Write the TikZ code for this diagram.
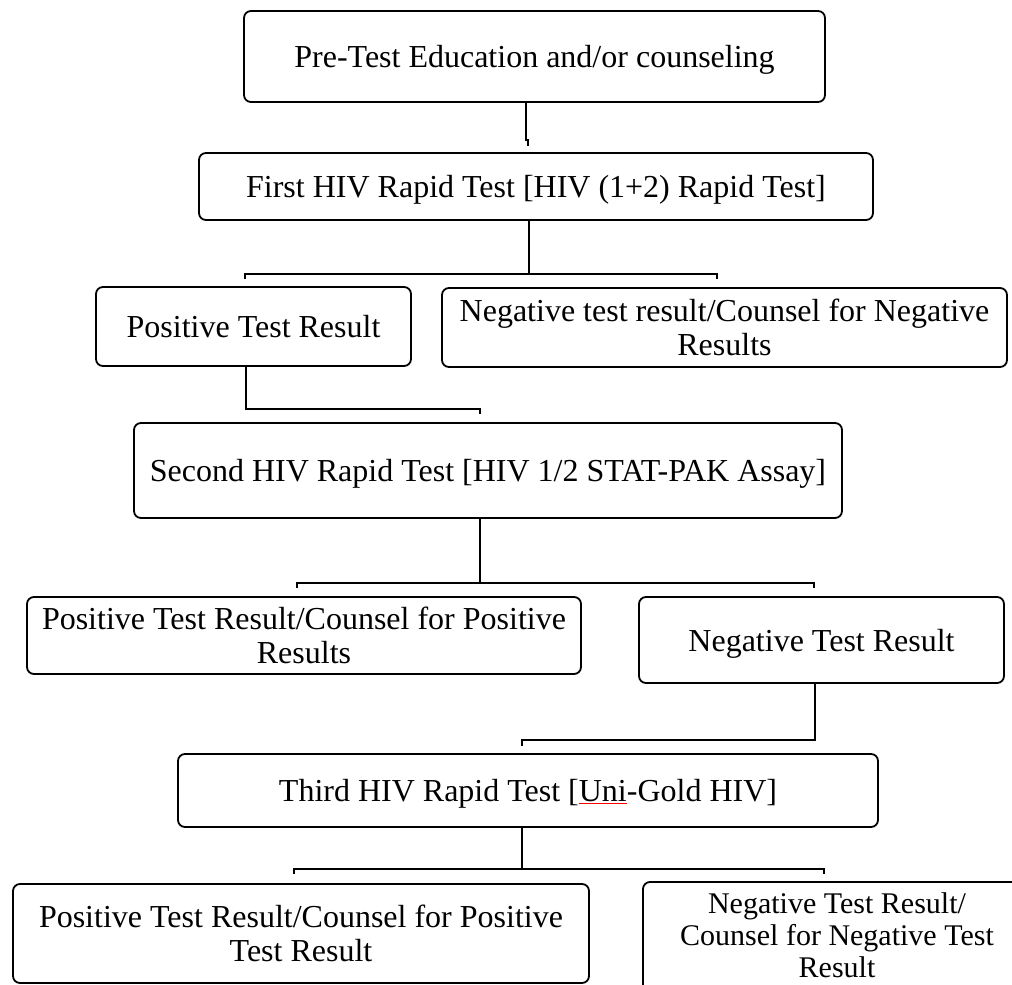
\documentclass[tikz,border=0pt]{standalone}
\usepackage{fontspec}
\setmainfont{Liberation Serif}
\begin{document}
\begin{tikzpicture}[x=1pt,y=-1pt,
  box/.style={draw=black, line width=1.8pt, rounded corners=7pt, inner sep=0pt,
    align=center, text depth=0pt, font=\fontsize{32}{34}\selectfont},
  conn/.style={draw=black, line width=1.8pt}]
\useasboundingbox (0,0) rectangle (1012,985);
\begin{scope}
\clip (0,0) rectangle (1012,985);
% boxes
\node[box, minimum width=581pt, minimum height=91pt] (pre) at (534.5,56.5) {Pre-Test Education and/or counseling};
\node[box, minimum width=674pt, minimum height=67pt] (first) at (536,186.5) {First HIV Rapid Test [HIV (1+2) Rapid Test]};
\node[box, minimum width=315pt, minimum height=79pt] (pos1) at (253.5,326.5) {Positive Test Result};
\node[box, minimum width=565pt, minimum height=79pt] (neg1) at (724.5,327.5) {Negative test result/Counsel for Negative\\Results};
\node[box, minimum width=708pt, minimum height=95pt] (second) at (488,470.5) {Second HIV Rapid Test [HIV 1/2 STAT-PAK Assay]};
\node[box, minimum width=554pt, minimum height=77pt] (pos2) at (304,635.5) {Positive Test Result/Counsel for Positive\\Results};
\node[box, minimum width=365pt, minimum height=86pt] (neg2) at (821.5,640) {Negative Test Result};
\node[box, minimum width=700pt, minimum height=73pt] (third) at (528,790.5) {Third HIV Rapid Test [\textcolor{red}{\underline{\textcolor{black}{Uni}}}-Gold HIV]};
\node[box, minimum width=576pt, minimum height=99pt] (pos3) at (301,933.5) {Positive Test Result/Counsel for Positive\\Test Result};
\node[box, minimum width=388pt, minimum height=113pt] (neg3) at (837,938.5) {};
\node[align=center, inner sep=0pt, text depth=0pt, font=\fontsize{30}{32}\selectfont] (neg3t) at (837,935) {Negative Test Result/\\Counsel for Negative Test\\Result};
\end{scope}
% connectors
\coordinate (a1) at (526,140);
\coordinate (a2) at (528,146);
\draw[conn] (pre.south -| a1) -- (a1) -- (a1 -| a2) -- (a2);
\coordinate (b1) at (529,274);
\coordinate (bl) at (245,279);
\coordinate (br) at (717,279);
\draw[conn] (first.south -| b1) -- (b1);
\draw[conn] (bl) -- (bl |- b1) -- (br |- b1) -- (br);
\coordinate (c1) at (246,409);
\coordinate (c2) at (480,414);
\draw[conn] (pos1.south -| c1) -- (c1) -- (c1 -| c2) -- (c2);
\coordinate (d1) at (480,583);
\coordinate (dl) at (297,588);
\coordinate (dr) at (814,588);
\draw[conn] (second.south -| d1) -- (d1);
\draw[conn] (dl) -- (dl |- d1) -- (dr |- d1) -- (dr);
\coordinate (e1) at (815,740);
\coordinate (e2) at (522,746);
\draw[conn] (neg2.south -| e1) -- (e1) -- (e1 -| e2) -- (e2);
\coordinate (f1) at (522,869);
\coordinate (fl) at (294,874);
\coordinate (fr) at (824,874);
\draw[conn] (third.south -| f1) -- (f1);
\draw[conn] (fl) -- (fl |- f1) -- (fr |- f1) -- (fr);
\end{tikzpicture}
\end{document}
